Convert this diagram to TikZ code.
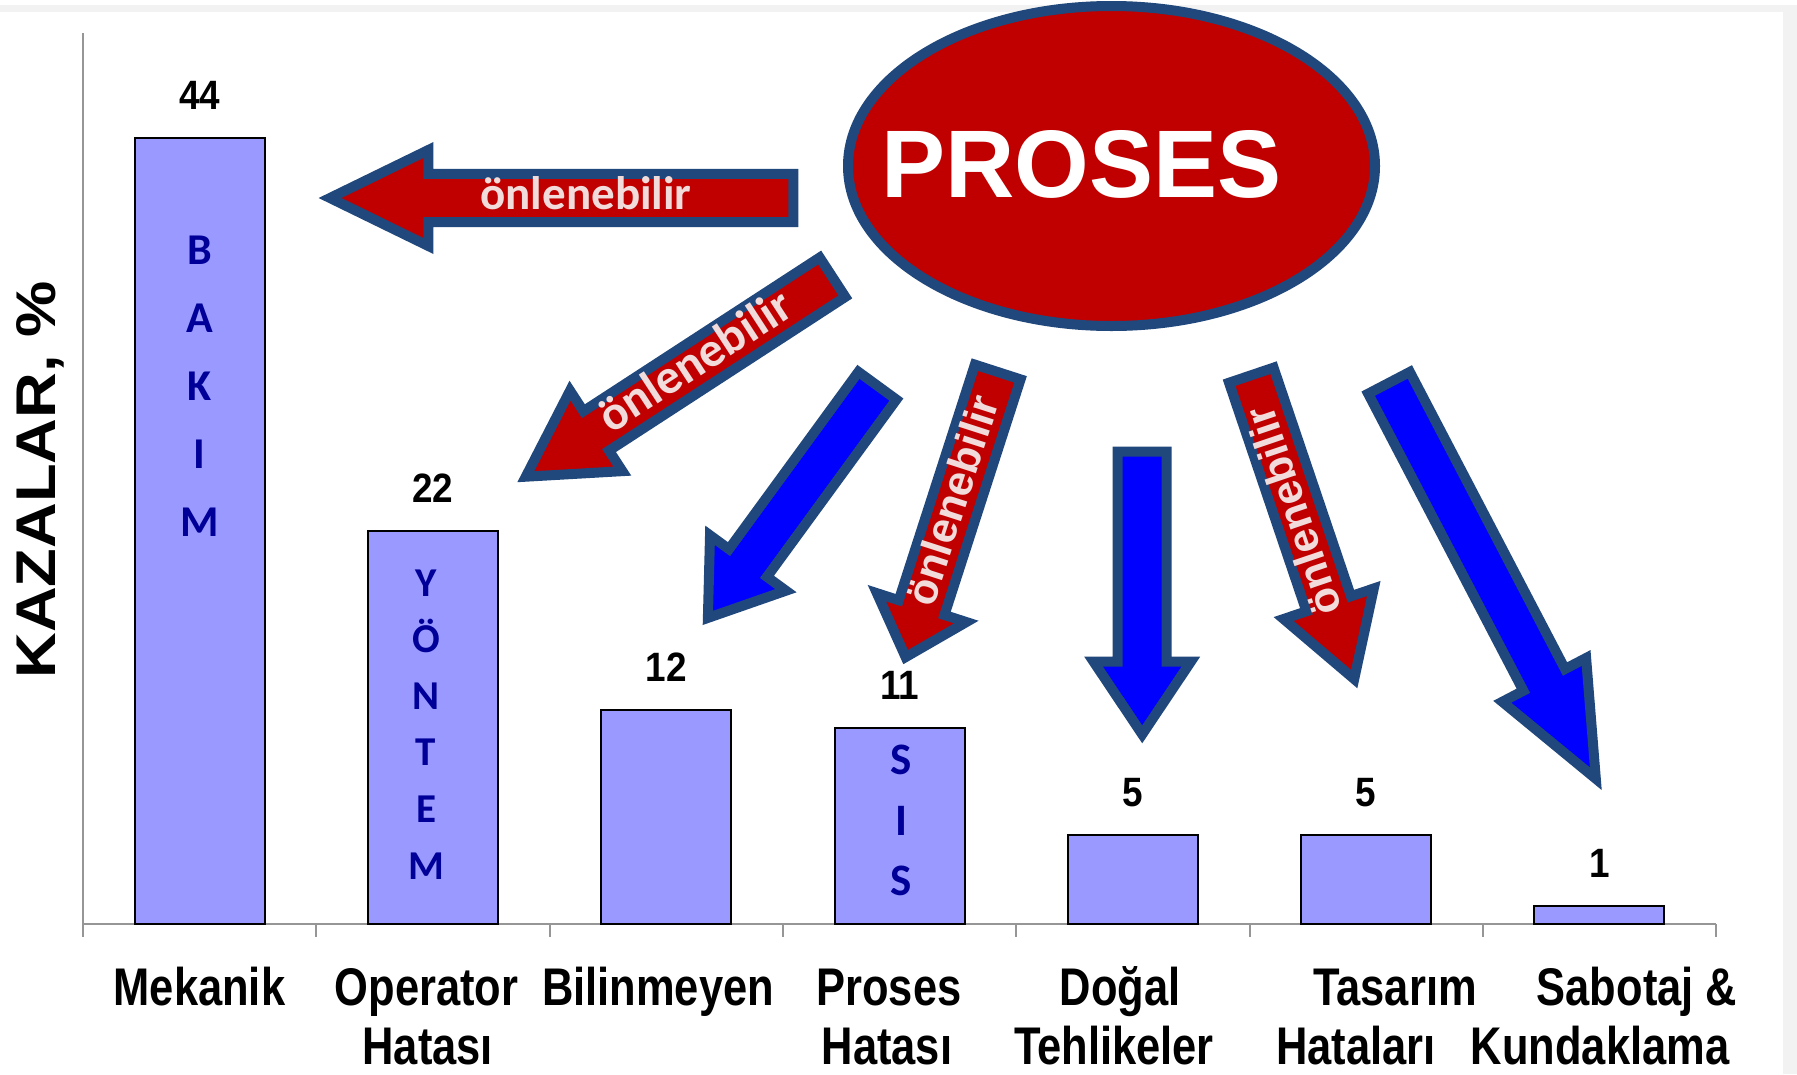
\documentclass[tikz,border=0pt]{standalone}
\usepackage{fontspec}
\setmainfont{Liberation Sans}
\newfontfamily\catfont[FakeStretch=0.82]{Liberation Sans}
\newfontfamily\valfont[FakeStretch=0.9]{Liberation Sans}
\newfontfamily\ylabfont[FakeStretch=1.13]{Liberation Sans}
\newfontfamily\calfont{Carlito}
\definecolor{arrline}{RGB}{32,72,124}
\definecolor{redc}{RGB}{192,0,0}
\definecolor{bluec}{RGB}{0,0,255}
\definecolor{arrtxt}{RGB}{242,220,219}
\definecolor{barfill}{RGB}{153,153,255}
\definecolor{barletter}{RGB}{0,0,153}
\definecolor{axisgrey}{RGB}{150,150,150}
\definecolor{framegrey}{RGB}{242,242,242}
% #1 x, #2 y (tail centre), #3 angle, #4 length, #5 head length, #6 head half width, #7 shaft half width, #8 fill
\newcommand{\blockarrow}[8]{%
  \begin{scope}[shift={(#1,#2)},rotate=#3]
    \filldraw[arrowstyle,fill=#8] (0,-#7) -- ({#4-#5},-#7) -- ({#4-#5},-#6) -- (#4,0) -- ({#4-#5},#6) -- ({#4-#5},#7) -- (0,#7) -- cycle;
  \end{scope}}
\begin{document}
\begin{tikzpicture}[x=1pt,y=-1pt,
  arrowstyle/.style={draw=arrline,line width=10pt,line join=miter,miter limit=10},
  bar/.style={draw=black,line width=2pt,fill=barfill},
  axisline/.style={draw=axisgrey,line width=2pt},
  val/.style={font=\valfont\bfseries\fontsize{41}{45}\selectfont,inner sep=0pt},
  cat/.style={font=\catfont\bfseries\fontsize{53}{60}\selectfont,inner sep=0pt,anchor=base},
  inbar/.style={font=\calfont\bfseries\fontsize{44}{48}\selectfont,text=barletter,inner sep=0pt,anchor=base},
  arrtext/.style={text=arrtxt,inner sep=0pt,anchor=base},
]
\useasboundingbox (0,0) rectangle (1797,1074);
\fill[white] (0,0) rectangle (1797,1074);
\fill[framegrey] (0,5) rectangle (1797,12);
\fill[framegrey] (1783,5) rectangle (1797,1074);

% axes
\draw[axisline] (83,33) -- (83,937);
\draw[axisline] (83,924) -- (1716,924);
\foreach \k in {1,...,7} \draw[axisline] ({83+233.3*\k},924) -- ++(0,13);

% bars and values
\foreach \i/\v in {1/44,2/22,3/12,4/11,5/5,6/5,7/1}{
  \pgfmathsetmacro\cx{83+233.3*(\i-0.5)}
  \pgfmathsetmacro\ty{924-17.86*\v}
  \draw[bar] (\cx-65,924) rectangle (\cx+65,\ty);
  \node[val] (v\i) at (\cx,\ty-42.5) {\v};
}

% letters in bars
\foreach \l [count=\j from 0] in {B,A,K,I,M}
  \node[inbar] (bk\j) at (199.65,{264.5+68*\j}) {\l};
\foreach \l [count=\j from 0] in {Y,Ö,N,T,E,M}
  \node[inbar,font=\calfont\bfseries\fontsize{41}{45}\selectfont] (yt\j) at (426,{596+56.6*\j}) {\l};
\foreach \l [count=\j from 0] in {S,I,S}
  \node[inbar,font=\calfont\bfseries\fontsize{45}{49}\selectfont] (ss\j) at (901,{774.5+60.5*\j}) {\l};

% category labels
\node[cat] (c1) at (199.5,1005) {Mekanik};
\node[cat] (c2a) at (426.5,1005) {Operator};
\node[cat] (c2b) at (427.7,1064) {Hatası};
\node[cat] (c3) at (658,1005) {Bilinmeyen};
\node[cat] (c4a) at (889,1005) {Proses};
\node[cat] (c4b) at (887,1064) {Hatası};
\node[cat] (c5a) at (1120,1005) {Doğal};
\node[cat] (c5b) at (1114,1064) {Tehlikeler};
\node[cat] (c6a) at (1395,1005) {Tasarım};
\node[cat] (c6b) at (1356,1064) {Hataları};
\node[cat] (c7a) at (1637,1005) {Sabotaj \&};
\node[cat] (c7b) at (1600,1064) {Kundaklama};

% y label
\node[font=\ylabfont\bfseries\fontsize{56}{60}\selectfont,rotate=90,anchor=base,inner sep=0pt] (ylab) at (55,480) {KAZALAR, \%};

% PROSES ellipse
\filldraw[draw=arrline,line width=10pt,fill=redc] (1111.5,166) ellipse [x radius=263.5, y radius=160];
\node[font=\bfseries\fontsize{96}{100}\selectfont,text=white,anchor=base,inner sep=0pt] (pro) at (1081.6,197) {PROSES};

% arrows
\blockarrow{793.3}{198}{180}{463.3}{98.4}{48}{24.1}{redc}
\blockarrow{832.5}{277.2}{213.04}{365.9}{84}{48}{23.5}{redc}
\blockarrow{877.4}{385.7}{233.87}{287.5}{68}{47}{23.5}{bluec}
\blockarrow{997.7}{372}{252.1}{299.6}{52}{47}{24}{redc}
\blockarrow{1142.2}{451.7}{270}{282.6}{72.6}{48.6}{24.5}{bluec}
\blockarrow{1251.3}{375.2}{-71.29}{320.8}{79.5}{47.6}{23.5}{redc}
\blockarrow{1389}{382.8}{-62.42}{446.7}{111.5}{47.3}{23.5}{bluec}

% arrow texts (baseline points)
\node[arrtext,font=\calfont\bfseries\fontsize{47}{50}\selectfont] (t1) at (586,209) {önlenebilir};
\node[arrtext,font=\calfont\bfseries\fontsize{49}{52}\selectfont,rotate=33.04] (t2) at (703.6,374.2) {önlenebilir};
\node[arrtext,font=\bfseries\fontsize{43}{46}\selectfont,rotate=72.1] (t4) at (966.4,504.7) {önlenebilir};
\node[arrtext,font=\bfseries\fontsize{43}{46}\selectfont,rotate=108.71] (t6) at (1307.3,506.5) {önlenebilir};
\end{tikzpicture}
\end{document}
